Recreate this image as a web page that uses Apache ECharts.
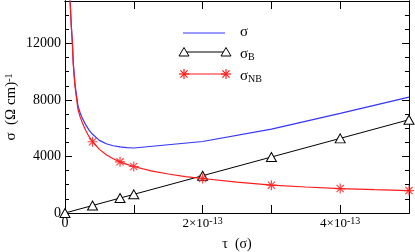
<!DOCTYPE html>
<html><head><meta charset="utf-8">
<script src="https://cdn.jsdelivr.net/npm/echarts@6/dist/echarts.min.js"></script>
<style>html,body{margin:0;padding:0;background:#fff}#c{width:415px;height:252px}</style>
</head><body><div id="c"></div>
<script>
// tau in units of 1e-13 s
const tauTotal = [0.05,0.07,0.09,0.107,0.12,0.145,0.17,0.19,0.22,0.25,0.3,0.35,0.4,0.5,0.6,0.7,0.8,0.9,1.0,2.0,3.0,4.0,5.0];
const sigmaTotal = [18520,15450,13400,12140,10660,9140,8220,7550,7090,6730,6250,5860,5570,5140,4900,4760,4680,4630,4600,5060,5940,7050,8200];
const tauB = [0,0.4,0.8,1,2,3,4,5];
const sigmaB = [0,528,1056,1320,2640,3960,5280,6600];
const tauNB = [0.05,0.07,0.09,0.107,0.12,0.145,0.17,0.19,0.22,0.25,0.3,0.35,0.4,0.5,0.6,0.7,0.8,0.9,1.0,1.25,1.5,1.75,2.0,2.5,3.0,3.5,4.0,4.5,5.0];
const sigmaNB = [18500,15400,13300,12000,10500,8950,8000,7300,6800,6400,5850,5400,5040,4500,4120,3840,3620,3440,3290,2980,2760,2580,2440,2180,1970,1840,1730,1650,1585];
const tauNBMarks = [0.4,0.8,1,2,3,4,5];
const sigmaNBMarks = [5040,3620,3290,2440,1970,1730,1585];
const xTickLabels = {0:'0', 2:'{m|2×10}{s|-13}', 4:'{m|4×10}{s|-13}'};
const yTickLabels = {0:'0', 4000:'4000', 8000:'8000', 12000:'12000'};

const FONT = 'Liberation Serif';
const zip = (a,b) => a.map((v,i)=>[v,b[i]]);
const starPath = 'path://M0,-5L0,5M-5,0L5,0M-3.6,-3.6L3.6,3.6M-3.6,3.6L3.6,-3.6';
const BLUE = '#3535ff', RED = '#ff1a1a';

function xAx(pos, interval, len, labels){
  return {type:'value', position:pos, min:0, max:5, interval:interval,
    axisLine:{show:true, onZero:false, lineStyle:{color:'#000', width:1}},
    axisTick:{show:true, inside:true, length:len, lineStyle:{color:'#000'}},
    splitLine:{show:false},
    axisLabel: labels ? {show:true, margin:3, fontFamily:FONT, fontSize:14, color:'#000',
      formatter:v => xTickLabels[v] !== undefined ? xTickLabels[v] : '',
      rich:{m:{fontFamily:FONT,fontSize:13,lineHeight:14,verticalAlign:'bottom',color:'#000'},
            s:{fontFamily:FONT,fontSize:10,lineHeight:10,verticalAlign:'top',padding:[0,0,12,0],color:'#000'}}} : {show:false},
    name: labels ? 'τ  (σ)' : '', nameLocation:'middle', nameGap:24, nameMoveOverlap:false,
    nameTextStyle:{fontFamily:FONT, fontSize:14, color:'#000'}};
}
function yAx(pos, interval, len, labels){
  return {type:'value', position:pos, min:0, max:15000, interval:interval,
    axisLine:{show:true, onZero:false, lineStyle:{color:'#000', width:1}},
    axisTick:{show:true, inside:true, length:len, lineStyle:{color:'#000'}},
    splitLine:{show:false},
    axisLabel: labels ? {show:true, margin:4, fontFamily:FONT, fontSize:14, color:'#000',
      formatter:v => yTickLabels[v] !== undefined ? yTickLabels[v] : ''} : {show:false},
    name: labels ? '{a|σ  (Ω cm)}{s|-1}' : '', nameLocation:'middle', nameGap:46, nameRotate:90, nameMoveOverlap:false,
    nameTextStyle:{fontFamily:FONT, fontSize:14, color:'#000',
      rich:{a:{fontFamily:FONT,fontSize:15,lineHeight:15,verticalAlign:'bottom',color:'#000'},
            s:{fontFamily:FONT,fontSize:10,lineHeight:10,verticalAlign:'top',padding:[0,0,10,0],color:'#000'}}}};
}
function star(cx, cy){
  const r = 5, d = 3.6;
  return [[0,-r,0,r],[-r,0,r,0],[-d,-d,d,d],[-d,d,d,-d]].map(s => ({type:'line',
    shape:{x1:cx+s[0], y1:cy+s[1], x2:cx+s[2], y2:cy+s[3]}, style:{stroke:RED, lineWidth:1.2}}));
}

const chart = echarts.init(document.getElementById('c'), null, {renderer:'canvas'});
chart.setOption({
  animation:false,
  backgroundColor:'#fff',
  grid:{left:65, right:6, top:1, bottom:39, containLabel:false, outerBoundsMode:'none'},
  xAxis:[xAx('bottom',1,8,true), xAx('bottom',1,4,false), xAx('top',1,8,false), xAx('top',1,4,false)],
  yAxis:[yAx('left',4000,7,true), yAx('left',1000,4,false), yAx('right',4000,7,false), yAx('right',1000,4,false)],
  series:[
    {type:'line', name:'σ', data:zip(tauTotal,sigmaTotal), showSymbol:false, symbol:'none',
      lineStyle:{color:BLUE, width:1.2}, clip:true, z:2},
    {type:'line', name:'σB', data:zip(tauB,sigmaB), symbol:'triangle', symbolSize:[10,9],
      itemStyle:{color:'#fff', borderColor:'#000', borderWidth:1},
      lineStyle:{color:'#000', width:1}, clip:false, z:3},
    {type:'line', name:'σNB', data:zip(tauNB,sigmaNB), showSymbol:false, symbol:'none',
      lineStyle:{color:RED, width:1.2}, clip:true, z:4},
    {type:'scatter', name:'σNB marks', data:zip(tauNBMarks,sigmaNBMarks), symbol:starPath, symbolSize:10,
      itemStyle:{color:'rgba(0,0,0,0)', borderColor:RED, borderWidth:1.2}, clip:false, z:5}
  ],
  graphic:[
    {type:'line', shape:{x1:183,y1:33,x2:225,y2:33}, style:{stroke:BLUE, lineWidth:1.2}},
    {type:'line', shape:{x1:184,y1:52,x2:226,y2:52}, style:{stroke:'#000', lineWidth:1}},
    {type:'polygon', shape:{points:[[184,47.5],[179,56],[189,56]]}, style:{fill:'#fff', stroke:'#000', lineWidth:1}},
    {type:'polygon', shape:{points:[[226,47.5],[221,56],[231,56]]}, style:{fill:'#fff', stroke:'#000', lineWidth:1}},
    {type:'line', shape:{x1:184,y1:74,x2:226,y2:74}, style:{stroke:RED, lineWidth:1.2}}
  ].concat(star(184,74), star(226,74), [
    {type:'text', left:240, top:25, style:{text:'σ', fontFamily:FONT, fontSize:15, fill:'#000'}},
    {type:'text', left:240, top:44, style:{text:'{a|σ}{b|B}', fill:'#000',
      rich:{a:{fontFamily:FONT,fontSize:15,lineHeight:15,verticalAlign:'top',fill:'#000'},
            b:{fontFamily:FONT,fontSize:10,lineHeight:10,verticalAlign:'bottom',padding:[8,0,0,0],fill:'#000'}}}},
    {type:'text', left:240, top:66, style:{text:'{a|σ}{b|NB}', fill:'#000',
      rich:{a:{fontFamily:FONT,fontSize:15,lineHeight:15,verticalAlign:'top',fill:'#000'},
            b:{fontFamily:FONT,fontSize:10,lineHeight:10,verticalAlign:'bottom',padding:[8,0,0,0],fill:'#000'}}}}
  ])
});
</script></body></html>
